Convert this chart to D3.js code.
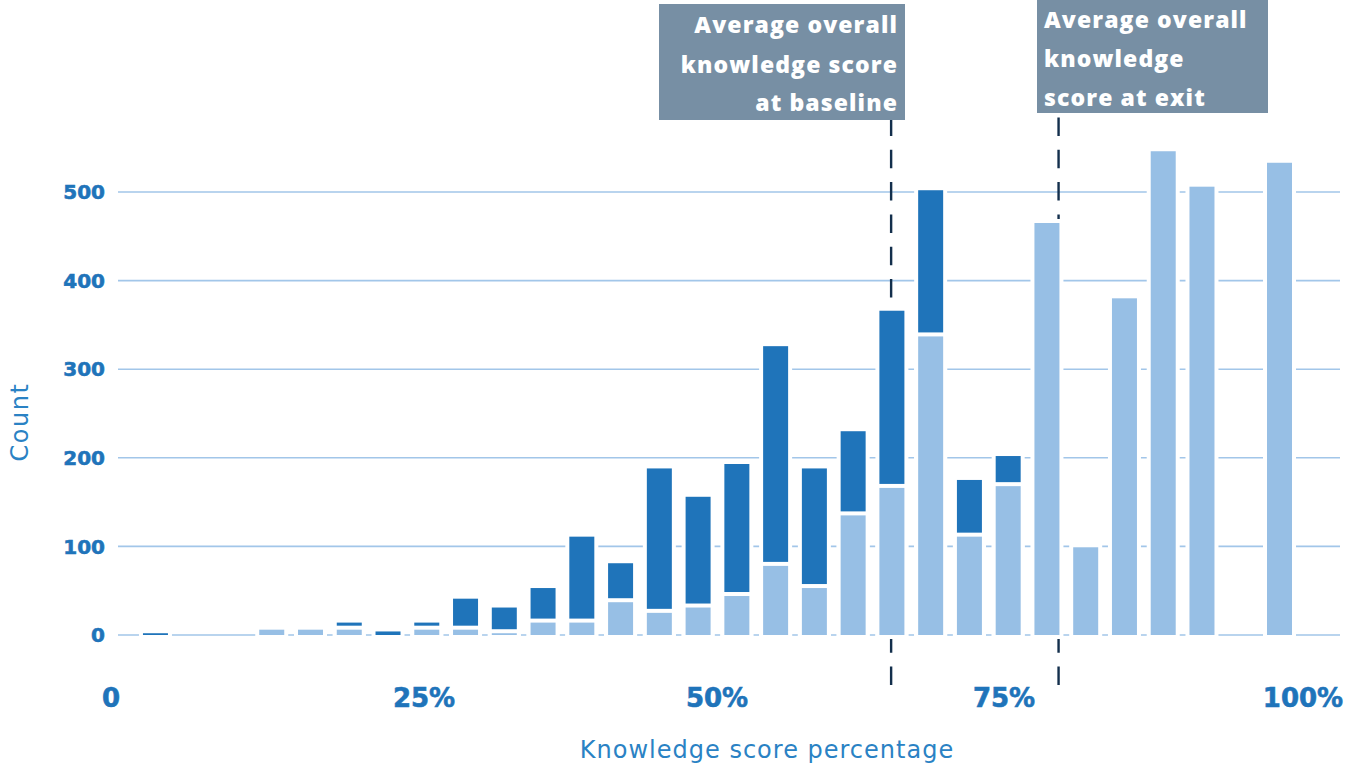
<!DOCTYPE html>
<html>
<head>
<meta charset="utf-8">
<script src="https://cdn.jsdelivr.net/npm/d3@7/dist/d3.min.js"></script>
<style>
  html, body { margin: 0; padding: 0; background: #ffffff; }
  svg { display: block; }
</style>
</head>
<body>
<svg id="chart" width="1347" height="766"></svg>
<script>
// Number of correct answers out of 30 questions, one bin per possible score
const correctAnswers = d3.range(0, 31);
const totalQuestions = 30;

// Respondent counts per score bin
const baselineCounts = [0, 2, 0, 0, 0, 0, 14, 4, 14, 41, 31, 53, 111, 81, 188, 156, 193, 326, 188, 230, 366, 502, 175, 202, 0, 0, 0, 0, 0, 0, 0];
const exitCounts     = [0, 0, 0, 0, 6, 6, 6, 0, 6, 6, 2, 14, 14, 37, 25, 31, 44, 78, 53, 135, 166, 337, 111, 168, 465, 99, 380, 546, 506, 0, 533];

// Average overall knowledge score (percent)
const baselineAverage = 66.6;
const exitAverage = 81.0;

// Axis ticks
const yTicks = [0, 100, 200, 300, 400, 500];
const xTickValues = [0, 25, 50, 75, 100];
const xTickLabels = ["0", "25%", "50%", "75%", "100%"];

const colors = {
  baseline: "#1f74ba",
  exit: "#97bfe5",
  grid: "#a2c6e9",
  axisText: "#1f74ba",
  title: "#2a82c4",
  box: "#778fa4",
  dash: "#132f4c"
};

const svg = d3.select("#chart");

const x = d3.scaleLinear().domain([0, 100]).range([116.7, 1279.5]);
const y = d3.scaleLinear().domain([0, 500]).range([635, 192]);
// label placement along the bottom
const xLabelPos = d3.scaleLinear().domain(xTickValues).range([111, 424, 717, 1004, 1303]);

const barW = 29;      // includes the white outline
const outline = 4;

const rows = correctAnswers.map((k, i) => ({
  score: k / totalQuestions * 100,
  baseline: baselineCounts[i],
  exit: exitCounts[i]
}));

// gridlines
svg.append("g")
  .selectAll("line")
  .data(yTicks)
  .join("line")
  .attr("x1", 118).attr("x2", 1340)
  .attr("y1", d => y(d)).attr("y2", d => y(d))
  .attr("stroke", colors.grid)
  .attr("stroke-width", 1.6);

// y tick labels
svg.append("g")
  .selectAll("text")
  .data(yTicks)
  .join("text")
  .attr("x", 105)
  .attr("y", d => y(d))
  .attr("dy", "0.36em")
  .attr("text-anchor", "end")
  .attr("font-family", "DejaVu Sans")
  .attr("font-weight", "bold")
  .attr("font-size", 20)
  .attr("stroke", colors.axisText)
  .attr("stroke-width", 0.6)
  .attr("fill", colors.axisText)
  .text(d => d);

// average score reference lines (drawn beneath the bars)
svg.append("g")
  .selectAll("line")
  .data([baselineAverage, exitAverage])
  .join("line")
  .attr("x1", d => x(d)).attr("x2", d => x(d))
  .attr("y1", 117.5).attr("y2", 685)
  .attr("stroke", colors.dash)
  .attr("stroke-width", 2.4)
  .attr("stroke-dasharray", "18.5,13.8");

// bars: baseline behind, exit in front
function drawBars(key, fill) {
  svg.append("g")
    .selectAll("rect")
    .data(rows.filter(d => d[key] > 0))
    .join("rect")
    .attr("x", d => x(d.score) - barW / 2)
    .attr("width", barW)
    .attr("y", d => y(d[key]) - outline / 2)
    .attr("height", d => y(0) - y(d[key]) + outline)
    .attr("fill", fill)
    .attr("stroke", "#ffffff")
    .attr("stroke-width", outline);
}
drawBars("baseline", colors.baseline);
drawBars("exit", colors.exit);

// x tick labels
svg.append("g")
  .selectAll("text")
  .data(xTickValues)
  .join("text")
  .attr("x", d => xLabelPos(d))
  .attr("y", 707)
  .attr("text-anchor", "middle")
  .attr("font-family", "DejaVu Sans")
  .attr("font-weight", "bold")
  .attr("font-size", 26)
  .attr("stroke", colors.axisText)
  .attr("stroke-width", 0.6)
  .attr("fill", colors.axisText)
  .text((d, i) => xTickLabels[i]);

// axis titles
svg.append("text")
  .attr("x", 767)
  .attr("y", 758)
  .attr("text-anchor", "middle")
  .attr("font-family", "DejaVu Sans")
  .attr("font-size", 24)
  .attr("letter-spacing", 1)
  .attr("fill", colors.title)
  .text("Knowledge score percentage");

svg.append("text")
  .attr("transform", "translate(28,422) rotate(-90)")
  .attr("text-anchor", "middle")
  .attr("font-family", "DejaVu Sans")
  .attr("font-size", 24)
  .attr("letter-spacing", 1.5)
  .attr("fill", colors.title)
  .text("Count");

// annotation boxes
const notes = [
  { x0: 659, x1: 905, y0: 4, y1: 120, anchor: "end", tx: 898,
    lines: ["Average overall", "knowledge score", "at baseline"], baselines: [33, 73, 111] },
  { x0: 1037, x1: 1268, y0: 0, y1: 113, anchor: "start", tx: 1044,
    lines: ["Average overall", "knowledge", "score at exit"], baselines: [28, 67, 106] }
];

notes.forEach(n => {
  const g = svg.append("g");
  g.append("rect")
    .attr("x", n.x0).attr("y", n.y0)
    .attr("width", n.x1 - n.x0).attr("height", n.y1 - n.y0)
    .attr("fill", colors.box);
  g.selectAll("text")
    .data(n.lines)
    .join("text")
    .attr("x", n.tx)
    .attr("y", (d, i) => n.baselines[i])
    .attr("text-anchor", n.anchor)
    .attr("font-family", "Open Sans")
    .attr("font-weight", 800)
    .attr("font-size", 23)
    .attr("letter-spacing", 1.1)
    .attr("fill", "#ffffff")
    .text(d => d);
});
</script>
</body>
</html>
